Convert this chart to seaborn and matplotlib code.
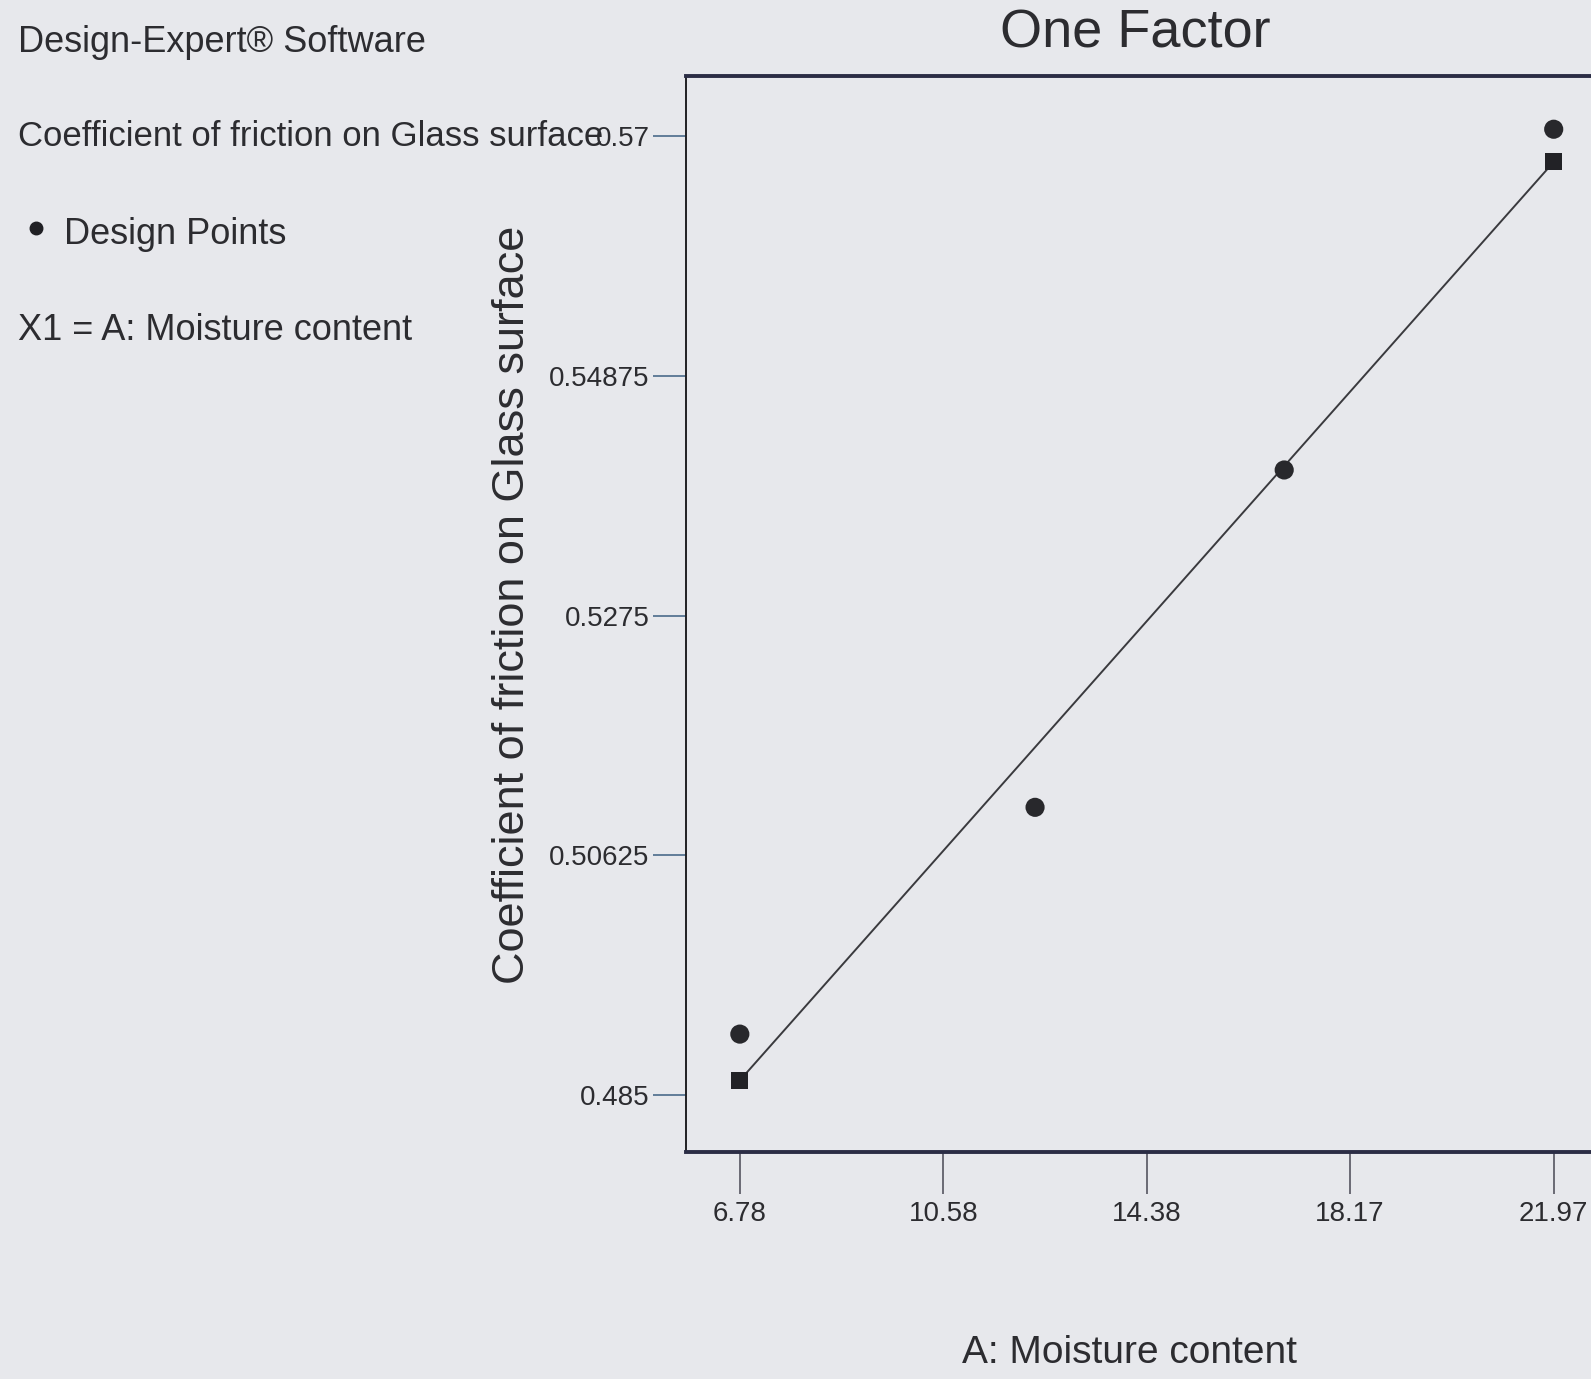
import matplotlib
matplotlib.use("Agg")
import matplotlib.pyplot as plt
import seaborn as sns
import pandas as pd

# ---- data ----
design_x = [6.78, 12.29, 16.94, 21.97]
design_y = [0.4904, 0.5105, 0.5404, 0.5706]
pred_x = [6.78, 21.97]
pred_y = [0.4863, 0.5677]
x_ticks = [6.78, 10.58, 14.38, 18.17, 21.97]
x_tick_labels = ["6.78", "10.58", "14.38", "18.17", "21.97"]
y_ticks = [0.485, 0.50625, 0.5275, 0.54875, 0.57]
y_tick_labels = ["0.485", "0.50625", "0.5275", "0.54875", "0.57"]

title = "One Factor"
xlabel = "A: Moisture content"
ylabel = "Coefficient of friction on Glass surface"
side_texts = ["Design-Expert\u00ae Software",
              "Coefficient of friction on Glass surface",
              "Design Points",
              "X1 = A: Moisture content"]

sns.set_theme(style="white")
plt.rcParams['font.family'] = ['Liberation Sans', 'DejaVu Sans']

BG = "#e7e8ec"
TXT = "#2c2c30"

fig = plt.figure(figsize=(15.91, 13.79), dpi=100, facecolor=BG)
ax = fig.add_axes([0.431, 0.1646, 0.589, 0.7803], facecolor=BG)

dfd = pd.DataFrame({"x": design_x, "y": design_y})
dfp = pd.DataFrame({"x": pred_x, "y": pred_y})

sns.lineplot(data=dfp, x="x", y="y", ax=ax, color="#3a3a3e", lw=1.4)
sns.scatterplot(data=dfp, x="x", y="y", ax=ax, marker="s", s=150,
                color="#222226", edgecolor="none", zorder=5)
sns.scatterplot(data=dfd, x="x", y="y", ax=ax, marker="o", s=190,
                color="#28282c", edgecolor="none", zorder=5)

ax.set_xlim(5.77, 23.26)
ax.set_ylim(0.47995, 0.57532)
ax.set_xticks(x_ticks)
ax.set_xticklabels(x_tick_labels)
ax.set_yticks(y_ticks)
ax.set_yticklabels(y_tick_labels)
ax.tick_params(axis="both", which="major", direction="out", labelsize=20,
               labelcolor=TXT, width=1.2, bottom=True, left=True,
               top=False, right=False)
ax.tick_params(axis="x", length=30, pad=5, color="#555560")
ax.tick_params(axis="y", length=24, pad=2, color="#4a6a8a")

ax.spines["right"].set_visible(False)
ax.spines["left"].set_color("#202024")
ax.spines["left"].set_linewidth(1.4)
ax.spines["top"].set_color("#2b2d45")
ax.spines["top"].set_linewidth(2.8)
ax.spines["bottom"].set_color("#2b2d45")
ax.spines["bottom"].set_linewidth(2.8)

ax.set_xlabel("")
ax.set_ylabel("")
fig.text(1135 / 1591, 1 - 33 / 1379, title, ha="center", va="center",
         fontsize=39, color=TXT)
fig.text(1129 / 1591, 1 - 1353 / 1379, xlabel, ha="center", va="center",
         fontsize=28, color=TXT)
fig.text(512 / 1591, 1 - 605 / 1379, ylabel, ha="center", va="center",
         rotation=90, fontsize=32.5, color=TXT)

fig.text(18 / 1591, 1 - 43 / 1379, side_texts[0], ha="left", va="center",
         fontsize=26, color=TXT)
fig.text(18 / 1591, 1 - 137 / 1379, side_texts[1], ha="left", va="center",
         fontsize=25, color=TXT, zorder=1)
fig.text(64 / 1591, 1 - 234 / 1379, side_texts[2], ha="left", va="center",
         fontsize=26, color=TXT)
fig.text(18 / 1591, 1 - 330 / 1379, side_texts[3], ha="left", va="center",
         fontsize=26, color=TXT)
fig.lines.append(matplotlib.lines.Line2D([36 / 1591], [1 - 228 / 1379],
                 transform=fig.transFigure, marker="o", markersize=9,
                 color="#202024", linestyle="none"))

fig.savefig("out.png", dpi=100, facecolor=BG)
